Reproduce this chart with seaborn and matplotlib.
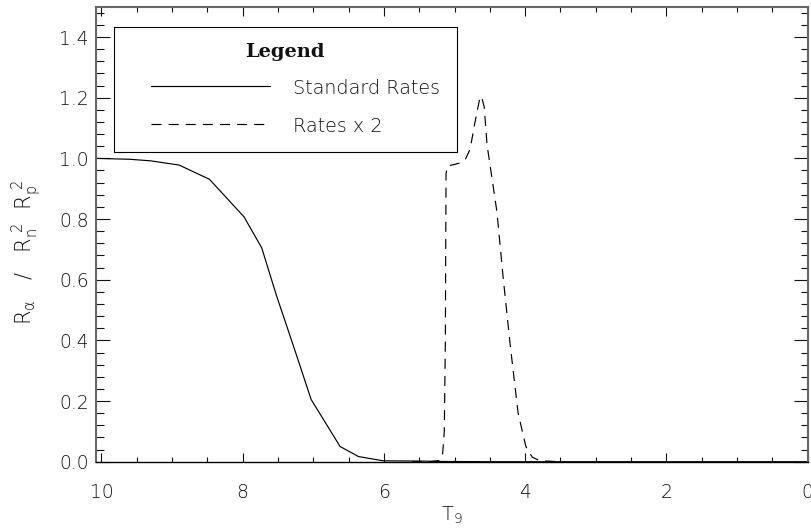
import matplotlib
matplotlib.use("Agg")
import matplotlib.pyplot as plt
import seaborn as sns
from matplotlib import font_manager as fm
from matplotlib.ticker import MultipleLocator, FormatStrFormatter
from matplotlib.lines import Line2D
from matplotlib.legend_handler import HandlerLine2D

# ---- data ----
t9_std = [10.08, 9.6, 9.31, 8.90, 8.47, 7.98, 7.73, 7.52, 7.28, 7.03, 6.62,
          6.36, 6.01, 5.44, 5.25, 4.5, 3.0, 1.0, 0.0]
ratio_std = [1.000, 0.997, 0.992, 0.978, 0.931, 0.807, 0.705, 0.547, 0.381,
             0.205, 0.050, 0.017, 0.003, 0.002, 0.001, 0.0, 0.0, 0.0, 0.0]

t9_x2 = [5.6, 5.35, 5.22, 5.17, 5.145, 5.13, 5.125, 5.12, 5.10, 5.00, 4.92,
         4.85, 4.78, 4.71, 4.65, 4.62, 4.58, 4.54, 4.40, 4.31, 4.21, 4.10,
         3.99, 3.90, 3.79, 3.5]
ratio_x2 = [0.0, 0.0, 0.004, 0.02, 0.10, 0.40, 0.70, 0.95, 0.975, 0.98, 0.985,
            0.995, 1.03, 1.12, 1.19, 1.205, 1.17, 1.045, 0.824, 0.603, 0.381,
            0.160, 0.050, 0.015, 0.003, 0.0]

series_labels = ["Standard Rates", "Rates x 2"]
legend_title = "Legend"
x_label = r"$\mathrm{T_9}$"
y_label = r"$\mathrm{R_\alpha\ \ \ /\ \ \ R_n^{\ 2}\ \ R_p^{\ 2}}$"

# ---- pick a thin sans font (IDL-like strokes) ----
def pick_light():
    wmap = {"ultralight": 200, "light": 300, "normal": 400, "regular": 400,
            "book": 400}
    for fam in ["DejaVu Sans", "Open Sans", "Noto Sans", "Lato", "Roboto"]:
        for f in fm.fontManager.ttflist:
            if f.name == fam and f.style == "normal":
                w = f.weight
                if isinstance(w, str):
                    w = wmap.get(w, 400)
                if w <= 300:
                    return fam, w
    return "DejaVu Sans", 400

light_family, light_weight = pick_light()

sns.set_style("ticks")
plt.rcParams["font.family"] = [light_family, "DejaVu Sans"]
plt.rcParams["font.weight"] = light_weight
plt.rcParams["mathtext.fontset"] = "custom"
plt.rcParams["mathtext.rm"] = f"{light_family}:weight={light_weight}"
plt.rcParams["mathtext.it"] = f"{light_family}:weight={light_weight}"
plt.rcParams["mathtext.bf"] = f"{light_family}:weight={light_weight}"
plt.rcParams["mathtext.fallback"] = "stixsans"
plt.rcParams["text.color"] = "#111111"
plt.rcParams["axes.labelcolor"] = "#111111"
plt.rcParams["xtick.color"] = "#111111"
plt.rcParams["ytick.color"] = "#111111"

fig = plt.figure(figsize=(8.12, 5.31), dpi=100)
ax = fig.add_axes([0.1179, 0.1305, 0.8768, 0.8569])

sns.lineplot(x=t9_std, y=ratio_std, ax=ax, color="black", linewidth=0.85,
             estimator=None, sort=False, label=series_labels[0])
sns.lineplot(x=t9_x2, y=ratio_x2, ax=ax, color="black", linewidth=0.85,
             estimator=None, sort=False, label=series_labels[1],
             linestyle=(0, (8.5, 6)))

ax.set_xlim(10.08, 0)
ax.set_ylim(0, 1.5)
ax.xaxis.set_major_locator(MultipleLocator(2))
ax.xaxis.set_minor_locator(MultipleLocator(0.5))
ax.yaxis.set_major_locator(MultipleLocator(0.2))
ax.yaxis.set_minor_locator(MultipleLocator(0.04))
ax.yaxis.set_major_formatter(FormatStrFormatter("%.1f"))
ax.xaxis.set_major_formatter(FormatStrFormatter("%d"))

ax.tick_params(axis="both", which="both", direction="in", top=True,
               right=True, width=0.8, labelsize=13.5)
ax.tick_params(axis="y", which="major", length=10, pad=5)
ax.tick_params(axis="y", which="minor", length=5.4)
ax.tick_params(axis="x", which="major", length=6.5, pad=15)
ax.tick_params(axis="x", which="minor", length=3.6)

for side in ["left", "top", "right"]:
    ax.spines[side].set_color("#666666")
    ax.spines[side].set_linewidth(1.5)
ax.spines["bottom"].set_color("black")
ax.spines["bottom"].set_linewidth(1.0)

ax.set_xlabel(x_label, fontsize=14, labelpad=2)
ax.set_ylabel(y_label, fontsize=15)
ax.yaxis.set_label_coords(-0.072, 0.46)

leg = ax.legend(loc="upper left", bbox_to_anchor=(0.0257, 0.956),
                title=legend_title, frameon=True, fancybox=False,
                edgecolor="black", framealpha=1, fontsize=13.8,
                handlelength=7.3, handletextpad=1.2, labelspacing=0.92,
                handleheight=1.1, borderpad=0.85, borderaxespad=0,
                handler_map={Line2D: HandlerLine2D(xpad=1.1)})
leg.get_frame().set_linewidth(0.8)
t = leg.get_title()
t.set_fontfamily("DejaVu Serif")
t.set_fontweight("bold")
t.set_fontsize(14)

fig.savefig("out.png", dpi=100)
